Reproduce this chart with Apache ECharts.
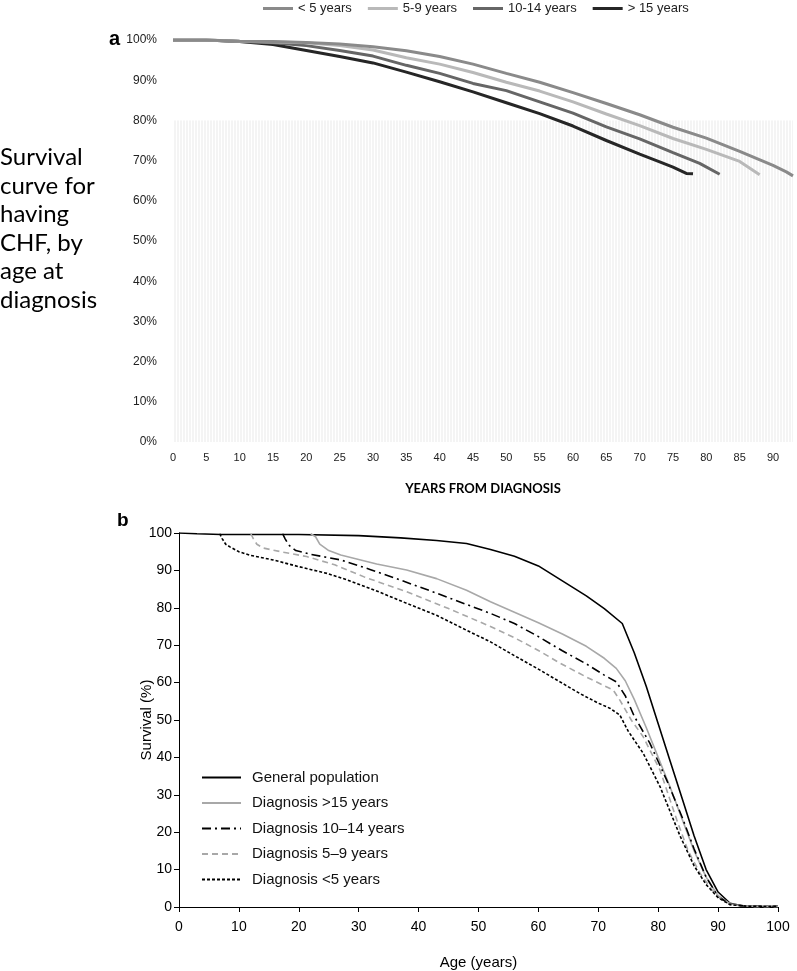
<!DOCTYPE html>
<html>
<head>
<meta charset="utf-8">
<script src="https://cdn.jsdelivr.net/npm/echarts@6/dist/echarts.min.js"></script>
<style>
html,body{margin:0;padding:0;background:#fff;}
#chart{width:797px;height:971px;}
</style>
</head>
<body>
<div id="chart"></div>
<script>
// ---------- Panel a: years from diagnosis vs survival (%) ----------
const aYears_lt5   = [0,5,10,15,20,25,30,35,40,45,50,55,60,65,70,75,80,85,90,92,93];
const aVals_lt5    = [100,100,99.7,99.6,99.4,99.0,98.3,97.3,95.9,94.0,91.7,89.5,86.9,84.2,81.4,78.3,75.6,72.3,68.8,67.2,66.2];
const aYears_5to9  = [0,5,10,15,20,25,30,35,40,45,50,55,60,65,70,75,80,85,88];
const aVals_5to9   = [100,100,99.7,99.5,99.3,98.6,97.5,95.6,94.0,91.9,89.5,87.3,84.6,81.6,78.7,75.5,72.8,69.8,66.5];
const aYears_10to14= [0,5,10,15,20,25,30,35,40,45,50,55,60,65,70,75,79,82];
const aVals_10to14 = [100,100,99.6,99.3,98.6,97.4,96.0,93.7,91.7,89.2,87.4,84.6,81.8,78.4,75.4,72.0,69.3,66.6];
const aYears_gt15  = [0,5,10,15,20,25,30,35,40,45,50,55,60,65,70,73,75,77,78];
const aVals_gt15   = [100,100,99.6,98.9,97.4,95.9,94.3,92.0,89.6,87.1,84.4,81.7,78.6,75.0,71.6,69.7,68.4,66.8,66.7];
const aNames = ['< 5 years','5-9 years','10-14 years','> 15 years'];

// ---------- Panel b: age vs survival (%) ----------
const bAge_gen = [0,3,7,20,30,37,43,48,52,56,60,64,68,71,74,76,78,80,82,84,86,88,90,92,94,97,100];
const bVal_gen = [100,99.8,99.6,99.6,99.3,98.7,98.0,97.2,95.6,93.8,91.2,87.2,83.2,79.8,75.8,68,59,49,39,29,19,10,4,1,0.3,0.1,0];
const bAge_gt15 = [22,22.8,23.5,25,27,30,33,38,43,48,52,56,60,64,68,71,73,74.5,76,78,80,82,84,86,88,90,92,95,100];
const bVal_gt15 = [99.8,99,97,95.3,94.1,92.9,91.7,90.1,87.8,84.7,81.6,78.8,76,73,69.7,66.5,63.8,60.5,55.5,48,40,32,23.5,15,8,3,0.8,0.2,0.2];
const bAge_10to14 = [17.3,17.7,18.3,19.5,22,27,32,37,42,47,52,56,60,64,68,71,73,74.5,76,78.6,81.4,84,86,88,90,92,95,100];
const bVal_10to14 = [99.8,98.5,96.8,95.3,94.3,92.8,90.2,87.4,84.5,81.5,78.5,75.8,72.3,68.5,65,62,60.2,56.5,51,43.8,34,24,15.5,8,2.8,0.7,0.2,0.2];
const bAge_5to9 = [12,12.4,13,14,17,21.3,26,31,38,45,52,56,60,63.6,68,72.5,73.6,75.5,77.5,80.3,83.1,85,87,89,91,93,96,100];
const bVal_5to9 = [99.8,98.5,97,96,95,93.7,91.5,88.2,84.3,79.8,75,72,68.6,65.2,61.5,58,55.3,50,45.5,36.6,23.3,15,9,4.5,1.5,0.5,0.1,0.1];
const bAge_lt5 = [6.8,7.2,7.8,8.5,10,12,15.7,20,24.7,28,33,38,43,48,52,56,60,63.6,67,70,72,73.6,75,77.5,80.3,83.7,86,88,90,92,95,100];
const bVal_lt5 = [99.8,98.5,97,96.3,95,94,92.8,91,89.2,87.5,84.5,81.2,78,74,70.9,67.2,63.6,60.2,57,54.5,53.1,51.3,47,41.1,32.2,18.8,11,6,2.5,0.6,0.2,0.2];
const bNames = ['General population','Diagnosis >15 years','Diagnosis 10\u201314 years','Diagnosis 5\u20139 years','Diagnosis <5 years'];

const zip = (xs, ys) => xs.map((x, i) => [x, ys[i]]);

// faint vertical stripe pattern for panel a background
const pc = document.createElement('canvas');
pc.width = 3; pc.height = 4;
const pctx = pc.getContext('2d');
pctx.fillStyle = '#ffffff'; pctx.fillRect(0,0,3,4);
pctx.fillStyle = '#f4f4f4'; pctx.fillRect(0,0,2,4);

const chart = echarts.init(document.getElementById('chart'), null, {renderer:'canvas'});

const aColors = ['#8a8a8a','#b9b9b9','#666666','#262626'];
const aData = [zip(aYears_lt5,aVals_lt5), zip(aYears_5to9,aVals_5to9), zip(aYears_10to14,aVals_10to14), zip(aYears_gt15,aVals_gt15)];

const aSeries = aNames.map((n, i) => ({
  name: n, type: 'line', xAxisIndex: 0, yAxisIndex: 0,
  data: aData[i], symbol: 'none', animation: false,
  lineStyle: {color: aColors[i], width: 3}, itemStyle: {color: aColors[i]},
  z: 3 + (3 - i),
  markArea: i === 0 ? {silent: true, itemStyle: {color: {image: pc, repeat: 'repeat'}},
    data: [[{coord: [0, 0]}, {coord: [93, 80]}]]} : undefined
}));

const bStyles = [
  {color:'#000000', type:'solid', width:1.6},
  {color:'#a8a8a8', type:'solid', width:1.6},
  {color:'#000000', type:[9,4,2,4], width:1.6},
  {color:'#a8a8a8', type:[6,4], width:1.6},
  {color:'#000000', type:[3,2], width:1.6}
];
const bData = [zip(bAge_gen,bVal_gen), zip(bAge_gt15,bVal_gt15), zip(bAge_10to14,bVal_10to14), zip(bAge_5to9,bVal_5to9), zip(bAge_lt5,bVal_lt5)];
const bSeries = bNames.map((n, i) => ({
  name: n, type: 'line', xAxisIndex: 1, yAxisIndex: 1,
  data: bData[i], symbol: 'none', animation: false,
  lineStyle: bStyles[i], itemStyle: {color: bStyles[i].color}
}));

const option = {
  backgroundColor: '#ffffff',
  animation: false,
  textStyle: {fontFamily: 'Arial, Liberation Sans, sans-serif'},
  title: {
    text: 'Survival\ncurve for\nhaving\nCHF, by\nage at\ndiagnosis',
    left: 0, top: 143, padding: 0,
    textStyle: {fontFamily: 'Lato', fontSize: 24, fontWeight: 'normal', lineHeight: 28.6, color: '#000'}
  },
  graphic: [
    {type:'text', left: 109, top: 29, style:{text:'a', font:'bold 20px Arial', fill:'#000'}},
    {type:'text', left: 117, top: 511, style:{text:'b', font:'bold 19px Arial', fill:'#000'}}
  ],
  legend: [
    {data: aNames, top: -3, left: 258, itemWidth: 30, itemHeight: 3, itemGap: 16,
     textStyle: {fontSize: 13, color: '#222', fontFamily: 'Arial'}, icon: 'rect'},
    {data: bNames, orient: 'vertical', left: 196, top: 765, itemWidth: 39, itemHeight: 14, itemGap: 10.5,
     itemStyle: {opacity: 0},
     textStyle: {fontSize: 15, color: '#111', fontFamily: 'Arial', padding: [0,0,0,6]}}
  ],
  grid: [
    {left: 173, right: 4, top: 40, height: 402},
    {left: 179, width: 599, top: 533, height: 374}
  ],
  xAxis: [
    {gridIndex: 0, type: 'value', min: 0, max: 93, interval: 5,
     axisLine: {show: false}, axisTick: {show: false}, splitLine: {show: false},
     axisLabel: {showMaxLabel: false, fontSize: 11, color: '#222', margin: 10},
     name: 'YEARS FROM DIAGNOSIS', nameLocation: 'middle', nameGap: 40,
     nameTextStyle: {fontFamily: 'Lato', fontWeight: 'bold', fontSize: 13, color: '#000'}},
    {gridIndex: 1, type: 'value', min: 0, max: 100, interval: 10,
     axisLine: {show: true, lineStyle: {color: '#000', width: 1}},
     axisTick: {show: true, length: 5, lineStyle: {color: '#000'}},
     splitLine: {show: false},
     axisLabel: {fontSize: 14, color: '#000', margin: 13},
     name: 'Age (years)', nameLocation: 'middle', nameGap: 48, nameMoveOverlap: false,
     nameTextStyle: {fontSize: 15, color: '#000'}}
  ],
  yAxis: [
    {gridIndex: 0, type: 'value', min: 0, max: 100, interval: 10,
     axisLine: {show: false}, axisTick: {show: false}, splitLine: {show: false},
     axisLabel: {formatter: '{value}%', fontSize: 12, color: '#222', margin: 16}},
    {gridIndex: 1, type: 'value', min: 0, max: 100, interval: 10,
     axisLine: {show: true, lineStyle: {color: '#000', width: 1}},
     axisTick: {show: true, length: 5, lineStyle: {color: '#000'}},
     splitLine: {show: false},
     axisLabel: {fontSize: 14, color: '#000', margin: 7},
     name: 'Survival (%)', nameLocation: 'middle', nameGap: 25, nameRotate: 90, nameMoveOverlap: false,
     nameTextStyle: {fontSize: 15, color: '#000'}}
  ],
  series: aSeries.concat(bSeries)
};
chart.setOption(option);
</script>
</body>
</html>
